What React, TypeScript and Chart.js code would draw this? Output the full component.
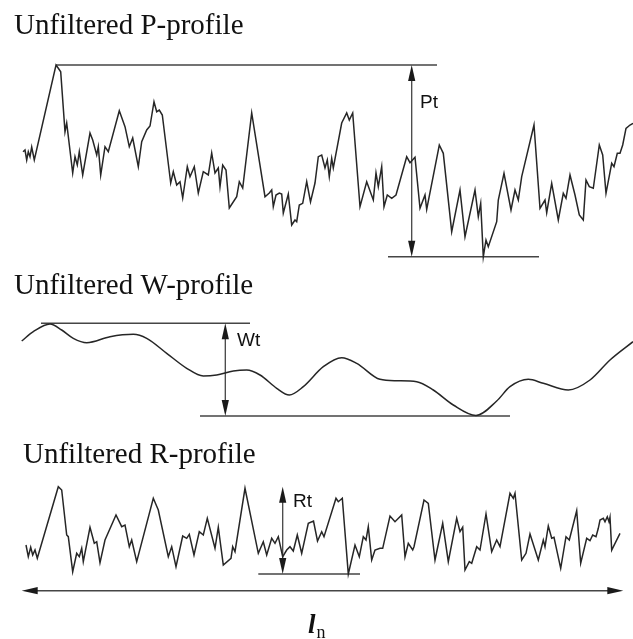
import React, { useEffect, useRef } from "react";
import { Chart, registerables } from "chart.js";

Chart.register(...registerables);

type Pair = [number, number];

// Profile traces: [position along the evaluation length, depth]
const pProfile: Pair[] = [
  [23, 151.7], [25, 150], [26.7, 160], [28.3, 151.7], [30, 156.7], [31.7, 147], [34.3, 160],
  [56, 65], [58.3, 68.3], [60.7, 71.7], [65, 131.7], [66.7, 123], [72.7, 173], [75, 156.7],
  [77.3, 165], [79.3, 151.7], [82.7, 175], [90, 133], [92.7, 140], [96.7, 155], [98.3, 146.7],
  [100.7, 175], [105, 146.7], [108.3, 151.7], [119.3, 110.7], [125, 126.7], [129.3, 146.7],
  [132.7, 138], [138.3, 166.7], [141.7, 141.7], [146.7, 130], [150, 126], [154, 101.7],
  [156.7, 111.7], [159.3, 110], [162.3, 115], [170.7, 183], [173.3, 171.7], [176.7, 185],
  [180, 181.7], [182.7, 198], [187.3, 166.7], [190, 176.7], [194.3, 166.7], [198.3, 193],
  [203.3, 171.7], [208.3, 175], [211.7, 153], [215, 173], [218.3, 168], [220, 186.7],
  [222.7, 165], [226, 170], [229.3, 208], [236.7, 196.7], [239.3, 181.7], [242.7, 188],
  [251.7, 113], [265, 196.7], [269.3, 193], [271.7, 190], [273.3, 206.7], [276, 195],
  [279.3, 193], [281.7, 194], [283.3, 213], [288.3, 194], [291.7, 225], [295, 220],
  [296.7, 221.7], [299.3, 205], [302.7, 203.3], [306.7, 181.7], [310.5, 202], [315, 183],
  [318.3, 156.7], [321.7, 155], [325, 168], [327.3, 160], [329.3, 176.7], [331.7, 158.3],
  [333.3, 168], [341.7, 123], [346.7, 113], [349.3, 120], [352.7, 113], [360, 206.7],
  [366.7, 181.7], [373.3, 200], [376, 173], [378.3, 186.7], [381.7, 166.7], [384, 206.7],
  [387.3, 195], [391.7, 198.3], [396, 195], [406.7, 156.7], [410, 162.7], [415, 157.3],
  [420, 208.3], [425, 195], [426.7, 209.3], [439.3, 145], [443.3, 153.3], [451.7, 231.7],
  [460, 190], [465, 236.7], [475, 190], [478.3, 216.7], [480.7, 203.3], [483.3, 256.7],
  [486, 240], [488.3, 246.7], [496.7, 221.7], [498.3, 200], [504, 173.3], [511, 210],
  [515, 190], [518.3, 200], [521.7, 176.7], [534, 125], [540, 208.3], [545, 200],
  [546.7, 212.7], [551.7, 183.3], [558.3, 220], [563.3, 193.3], [566, 198.3], [570, 175],
  [575, 195], [579.3, 215], [583.3, 220], [586, 180], [589.3, 186.7], [593.3, 188.3],
  [599.3, 145], [602.7, 155], [606, 193.3], [611.7, 163.3], [614, 166.7], [617.3, 153.3],
  [620, 153.3], [622.7, 145], [626, 128.3], [630, 125], [633, 123.3],
];

const wProfile: Pair[] = [
  [21.7, 341], [33.3, 331.7], [50, 324], [61.7, 330], [73.3, 338.3], [86.7, 342.7],
  [110, 336.7], [133.3, 334.3], [146.7, 338.3], [166.7, 353.3], [186.7, 368.3], [203.3, 376],
  [216.7, 375], [233.3, 371], [246.7, 370], [260, 375], [276.7, 388.3], [289.3, 395],
  [303.3, 386.7], [323.3, 366.7], [341.7, 357.7], [356.7, 363.3], [380, 379.3], [396.7, 380.7],
  [416.7, 381.7], [433.3, 390], [453.3, 405], [476, 415.5], [496.7, 401], [510, 386.7],
  [528.3, 379.3], [543.3, 383.3], [568.3, 390], [590, 380], [610, 360], [633, 341.7],
];

const rProfile: Pair[] = [
  [26, 545], [28.3, 556.7], [30.7, 547.3], [32.7, 555], [35, 550], [37.3, 558.3],
  [58.3, 486.7], [61.7, 490], [66.7, 535], [68.3, 536.7], [72.7, 571.7], [76.7, 553.3],
  [79.3, 556.7], [81.7, 548.3], [83.3, 561.7], [90, 527.3], [94.3, 543.3], [96.7, 541.7],
  [100, 562.7], [105, 540], [116, 515], [121.7, 526.7], [125, 525], [129.3, 546.7],
  [131.7, 540], [136.7, 561.7], [153.3, 498.3], [158.3, 510], [168.3, 556.7], [171.7, 546.7],
  [176, 566.7], [182.7, 536], [186.7, 538.3], [189.3, 534.3], [194, 555], [199.3, 531.7],
  [203.3, 535], [207.3, 518.3], [215, 548.3], [218.3, 527.3], [223.3, 565], [231, 558.3],
  [232.7, 546.7], [235, 551.7], [245, 488.3], [258.3, 553.3], [263.3, 541.7], [266.7, 555],
  [271.7, 538.3], [275, 543.3], [278.3, 536.7], [282.7, 556.7], [286.7, 550], [290, 546.7],
  [293.3, 551], [297.3, 535], [301.7, 553.3], [308.3, 523.3], [313.5, 521], [317.5, 541],
  [321.7, 531.7], [324, 536.7], [336, 498.3], [338.3, 501.7], [342.3, 498.3], [348.3, 574],
  [355, 545], [359.3, 556.7], [363.3, 536.7], [366, 540], [368.3, 526.7], [371.7, 560],
  [375, 550], [380, 548.3], [382.7, 548.3], [390, 516], [395, 521.7], [401.7, 515],
  [405, 556.7], [408.3, 543.3], [412.7, 550], [414, 546.7], [424, 500], [428.3, 503.3],
  [435, 560], [442.7, 523.3], [448.3, 561.7], [456.7, 518.3], [460, 531.7], [462.7, 527.3],
  [465, 570], [469.3, 561.7], [471.7, 563.3], [476.7, 546.7], [480, 550], [486, 514],
  [491.7, 551.7], [496.7, 540], [500, 546.7], [510, 493.3], [513.3, 498.3], [515, 493.3],
  [521.7, 560], [526, 553.3], [530, 534], [538.3, 560], [543.3, 540], [545, 546.7],
  [548.3, 526], [551.7, 538.3], [554, 537.3], [560.7, 568.3], [566, 536.7], [569.3, 540],
  [576.7, 510.7], [580.7, 563.3], [586.7, 538.3], [590, 540.7], [592.7, 535], [596, 536.7],
  [598.3, 528.3], [600, 520], [603.3, 518.3], [605, 521.7], [607.3, 516.7], [609, 521.7],
  [610, 517.3], [611.7, 550], [620, 533.3],
];

// Peak / valley levels: [depth, from, to]
const peakValleyLevels: [number, number, number][] = [
  [65, 56, 437],
  [256.7, 388, 539],
  [323.3, 41, 250],
  [416, 200, 510],
  [574, 258.3, 360],
];

// Total height arrows: [position, top depth, bottom depth]
const heightArrows: [number, number, number][] = [
  [411.7, 65, 256.7],
  [225.3, 323.3, 416],
  [282.7, 486.7, 574],
];
const heightLabels = ["Pt", "Wt", "Rt"];
// label anchors: [position, depth of text centre]
const heightLabelAnchors: Pair[] = [
  [420, 103],
  [237, 341],
  [293, 502],
];

// Evaluation length: [depth, from, to]
const lengthArrow: [number, number, number] = [590.7, 21.7, 623.3];
const lengthLabelAnchor: Pair = [308, 633];

const titles = ["Unfiltered P-profile", "Unfiltered W-profile", "Unfiltered R-profile"];
const titleAnchors: Pair[] = [
  [14, 34],
  [14, 294],
  [23, 463],
];

const toPoints = (pairs: Pair[]) => pairs.map(([x, y]) => ({ x, y }));

const INK = "#262626";
const GUIDE = "#454545";

function arrowHead(ctx: CanvasRenderingContext2D, tipX: number, tipY: number, dx: number, dy: number) {
  const len = 16;
  const half = 3.6;
  const bx = tipX - dx * len;
  const by = tipY - dy * len;
  ctx.beginPath();
  ctx.moveTo(tipX, tipY);
  ctx.lineTo(bx - dy * half, by + dx * half);
  ctx.lineTo(bx + dy * half, by - dx * half);
  ctx.closePath();
  ctx.fill();
}

const annotationPlugin = {
  id: "profileAnnotations",
  afterDatasetsDraw(chart: any) {
    const { ctx, scales } = chart;
    const xs = scales.x;
    const ys = scales.y;
    const px = (v: number) => xs.getPixelForValue(v);
    const py = (v: number) => ys.getPixelForValue(v);
    ctx.save();
    ctx.fillStyle = "#1a1a1a";

    heightArrows.forEach(([x, top, bottom]) => {
      arrowHead(ctx, px(x), py(top), 0, -1);
      arrowHead(ctx, px(x), py(bottom), 0, 1);
    });
    const [ly, lFrom, lTo] = lengthArrow;
    arrowHead(ctx, px(lFrom), py(ly), -1, 0);
    arrowHead(ctx, px(lTo), py(ly), 1, 0);

    ctx.fillStyle = "#111";
    ctx.textBaseline = "alphabetic";
    ctx.textAlign = "left";
    ctx.font = '29px "Liberation Serif", "Times New Roman", serif';
    titles.forEach((t, i) => {
      const [x, y] = titleAnchors[i];
      ctx.fillText(t, px(x), py(y));
    });

    ctx.font = '19px "Liberation Sans", Arial, sans-serif';
    ctx.textBaseline = "middle";
    heightLabels.forEach((t, i) => {
      const [x, y] = heightLabelAnchors[i];
      ctx.fillText(t, px(x), py(y));
    });

    ctx.textBaseline = "alphabetic";
    const [lx, lyy] = lengthLabelAnchor;
    ctx.font = 'italic bold 27px "Liberation Serif", "Times New Roman", serif';
    ctx.fillText("l", px(lx), py(lyy));
    const lw = ctx.measureText("l").width;
    ctx.font = '18px "Liberation Serif", "Times New Roman", serif';
    ctx.fillText("n", px(lx) + lw + 1, py(lyy) + 5);
    ctx.restore();
  },
};

export default function App() {
  const canvasRef = useRef<HTMLCanvasElement | null>(null);

  useEffect(() => {
    const canvas = canvasRef.current;
    if (!canvas) return;

    const profileStyle = {
      borderColor: INK,
      borderWidth: 1.5,
      pointRadius: 0,
      fill: false,
    };
    const guideStyle = {
      borderColor: GUIDE,
      borderWidth: 1.5,
      pointRadius: 0,
      fill: false,
    };

    const datasets: any[] = [
      { label: "P-profile", data: toPoints(pProfile), tension: 0, ...profileStyle },
      {
        label: "W-profile",
        data: toPoints(wProfile),
        cubicInterpolationMode: "monotone",
        ...profileStyle,
      },
      { label: "R-profile", data: toPoints(rProfile), tension: 0, ...profileStyle },
    ];
    peakValleyLevels.forEach(([y, from, to], i) => {
      datasets.push({ label: `level-${i}`, data: [{ x: from, y }, { x: to, y }], ...guideStyle });
    });
    heightArrows.forEach(([x, top, bottom], i) => {
      datasets.push({
        label: heightLabels[i],
        data: [{ x, y: top + 6 }, { x, y: bottom - 6 }],
        ...guideStyle,
        borderWidth: 1.3,
      });
    });
    datasets.push({
      label: "length",
      data: [
        { x: lengthArrow[1] + 6, y: lengthArrow[0] },
        { x: lengthArrow[2] - 6, y: lengthArrow[0] },
      ],
      ...guideStyle,
    });

    const chart = new Chart(canvas, {
      type: "line",
      data: { datasets },
      options: {
        responsive: false,
        animation: false,
        devicePixelRatio: 1,
        parsing: false as any,
        normalized: true,
        layout: { padding: 0 },
        scales: {
          x: { type: "linear", min: 0, max: 633, display: false },
          y: { type: "linear", min: 0, max: 639, reverse: true, display: false },
        },
        plugins: {
          legend: { display: false },
          tooltip: { enabled: false },
        },
        elements: { point: { radius: 0 } },
      },
      plugins: [annotationPlugin],
    });

    return () => chart.destroy();
  }, []);

  return (
    <div
      style={{
        position: "fixed",
        left: 0,
        top: 0,
        width: 633,
        height: 639,
        background: "#fff",
      }}
    >
      <canvas ref={canvasRef} width={633} height={639} style={{ display: "block" }} />
    </div>
  );
}
